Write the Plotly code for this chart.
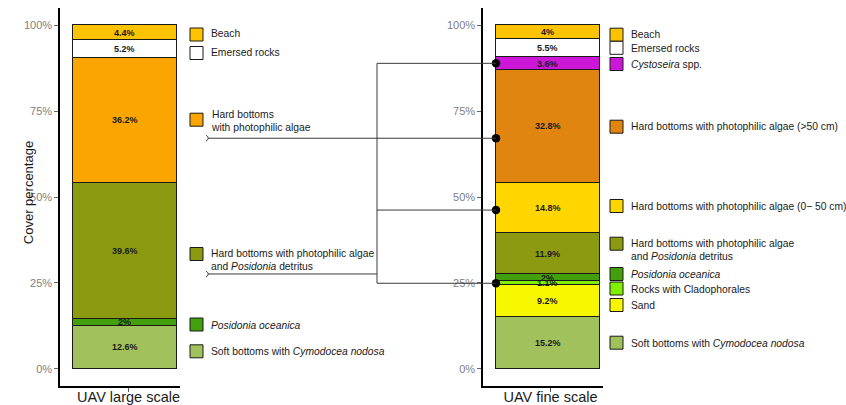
import plotly.graph_objects as go

# ---------------- data ----------------
large_label = "UAV large scale"
fine_label = "UAV fine scale"

# top-down order (as in the legends)
large_classes = ["Beach", "Emersed rocks", "Hard bottoms<br>with photophilic algae",
                 "Hard bottoms with photophilic algae<br>and <i>Posidonia</i> detritus",
                 "<i>Posidonia oceanica</i>", "Soft bottoms with <i>Cymodocea nodosa</i>"]
large_values = [4.4, 5.2, 36.2, 39.6, 2.0, 12.6]
large_text = ["4.4%", "5.2%", "36.2%", "39.6%", "2%", "12.6%"]
large_colors = ["#FDC300", "#FFFFFF", "#FBA600", "#8C9A12", "#43A00C", "#A0C15C"]

fine_classes = ["Beach", "Emersed rocks", "<i>Cystoseira</i> spp.",
                "Hard bottoms with photophilic algae (>50 cm)",
                "Hard bottoms with photophilic algae (0− 50 cm)",
                "Hard bottoms with photophilic algae<br>and <i>Posidonia</i> detritus",
                "<i>Posidonia oceanica</i>", "Rocks with Cladophorales", "Sand",
                "Soft bottoms with <i>Cymodocea nodosa</i>"]
fine_values = [4.0, 5.5, 3.6, 32.8, 14.8, 11.9, 2.0, 1.1, 9.2, 15.2]
fine_text = ["4%", "5.5%", "3.6%", "32.8%", "14.8%", "11.9%", "2%", "1.1%", "9.2%", "15.2%"]
fine_colors = ["#FDC300", "#FFFFFF", "#CC17D9", "#E08510", "#FFD600", "#8C9A12",
               "#43A00C", "#80F000", "#F7F700", "#A0C15C"]

# linking points on the fine-scale bar (cover %)
link_values = [88.9, 67.1, 46.2, 24.9]
# left-side bracket levels (cover %)
bracket_values = [67.1, 27.6]

y_tickvals = [0, 25, 50, 75, 100]
y_ticktext = ["0%", "25%", "50%", "75%", "100%"]

# ---------------- layout helpers ----------------
W, H = 846, 405
FONT = "Liberation Sans, Arial, sans-serif"


def X(p):
    return p / W


def Y(p):
    return 1 - p / H


Y_RANGE = [-5, 105]
Y_DOM = [Y(386), Y(8)]
X1_DOM, X1_RANGE, OFF1 = [X(60), X(180)], [-0.659, 0.495], -0.534
X2_DOM, X2_RANGE, OFF2 = [X(483), X(603)], [-0.649, 0.505], -0.524


def x2_paper(v):
    return X2_DOM[0] + (v - X2_RANGE[0]) / (X2_RANGE[1] - X2_RANGE[0]) * (X2_DOM[1] - X2_DOM[0])


fig = go.Figure()
annotations = []
shapes = []


def add_stack(xref, yref, values, colors, texts, offset):
    cum = 0.0
    for v, c, t in zip(values[::-1], colors[::-1], texts[::-1]):
        fig.add_trace(go.Bar(
            x=[0], y=[v], xaxis=xref, yaxis=yref, width=1, offset=offset,
            marker=dict(color=c, line=dict(color="#1a1a1a", width=1)),
            showlegend=False, hoverinfo="skip"))
        annotations.append(dict(
            x=0, y=cum + v / 2, xref=xref, yref=yref, text=f"<b>{t}</b>",
            showarrow=False, xshift=offset * 104 + 52,
            font=dict(family=FONT, size=9, color="#1a1a1a")))
        cum += v


add_stack("x", "y", large_values, large_colors, large_text, OFF1)
add_stack("x2", "y2", fine_values, fine_colors, fine_text, OFF2)

# ---------------- custom legends ----------------
large_key_y = [34.5, 53, 119.7, 254, 324.5, 351.3]
large_lab_y = [33, 52.3, 121.3, 259.7, 325, 351.7]
fine_key_y = [34.7, 47.8, 64, 126.7, 206, 243.7, 274, 288.5, 305, 342.7]
fine_lab_y = [35, 48.3, 64.3, 127, 206.7, 249.7, 274, 289, 305, 343.3]


def add_legend(key_x, text_x, classes, colors, key_y, lab_y):
    for name, c, ky, ly in zip(classes, colors, key_y, lab_y):
        shapes.append(dict(type="rect", xref="paper", yref="paper",
                           x0=X(key_x), x1=X(key_x + 13), y0=Y(ky + 6.5), y1=Y(ky - 6.5),
                           fillcolor=c, line=dict(color="#1a1a1a", width=1), layer="above"))
        annotations.append(dict(x=X(text_x), y=Y(ly), xref="paper", yref="paper",
                                xanchor="left", yanchor="middle", align="left",
                                text=name, showarrow=False,
                                font=dict(family=FONT, size=10.3, color="#1a1a1a")))


add_legend(190, 208.5, large_classes, large_colors, large_key_y, large_lab_y)
add_legend(610, 628.5, fine_classes, fine_colors, fine_key_y, fine_lab_y)

# ---------------- connectors ----------------
LC = dict(color="#3a3a3a", width=1)
dot_x = x2_paper(OFF2)
vx = X(377)
shapes.append(dict(type="line", xref="paper", yref="y", x0=vx, x1=vx,
                   y0=link_values[0], y1=link_values[-1], line=LC))
for v in [link_values[0], link_values[2], link_values[3]]:
    shapes.append(dict(type="line", xref="paper", yref="y", x0=vx, x1=dot_x,
                       y0=v, y1=v, line=LC))
shapes.append(dict(type="line", xref="paper", yref="y", x0=X(208), x1=dot_x,
                   y0=bracket_values[0], y1=bracket_values[0], line=LC))
shapes.append(dict(type="line", xref="paper", yref="y", x0=X(208), x1=vx,
                   y0=bracket_values[1], y1=bracket_values[1], line=LC))
for v in bracket_values:
    yp = 369 - v * 3.44
    shapes.append(dict(type="path", xref="paper", yref="paper",
                       path=f"M {X(206)},{Y(yp - 3)} Q {X(210.5)},{Y(yp)} {X(206)},{Y(yp + 3)}",
                       line=LC))

fig.add_trace(go.Scatter(x=[OFF2] * len(link_values), y=link_values, xaxis="x2", yaxis="y2",
                         mode="markers", marker=dict(color="black", size=8.5),
                         showlegend=False, hoverinfo="skip", cliponaxis=False))

annotations.append(dict(x=X(18.7), y=Y(193), xref="paper", yref="paper", text="Cover percentage",
                        textangle=-90, showarrow=False,
                        font=dict(family=FONT, size=13, color="#1a1a1a")))

# ---------------- axes ----------------
def xaxis(dom, rng, label, anchor):
    return dict(domain=dom, range=rng, anchor=anchor, tickvals=[0], ticktext=[label],
                showline=True, linecolor="black", linewidth=1.5, ticks="outside",
                ticklen=4, tickcolor="#555", tickwidth=1, showgrid=False, zeroline=False,
                ticklabelstandoff=-7,
                tickfont=dict(family=FONT, size=14.5, color="#1a1a1a"), fixedrange=True)


def yaxis(anchor):
    return dict(domain=Y_DOM, range=Y_RANGE, anchor=anchor, tickvals=y_tickvals,
                ticktext=y_ticktext, showline=True, linecolor="black", linewidth=1.5,
                ticks="outside", ticklen=4, tickcolor="#666", tickwidth=1,
                showgrid=False, zeroline=False, fixedrange=True,
                tickfont=dict(family=FONT, size=11, color="#808080"))


fig.update_layout(
    width=W, height=H, margin=dict(l=0, r=0, t=0, b=0),
    paper_bgcolor="white", plot_bgcolor="white", barmode="stack", bargap=0,
    xaxis=xaxis(X1_DOM, X1_RANGE, large_label, "y"),
    xaxis2=xaxis(X2_DOM, X2_RANGE, fine_label, "y2"),
    yaxis=yaxis("x"), yaxis2=yaxis("x2"),
    annotations=annotations, shapes=shapes, font=dict(family=FONT),
    hovermode=False,
)

fig.write_html("out.html", config={"displayModeBar": False},
               post_script="document.body.style.margin='0px';document.body.style.overflow='hidden';")
